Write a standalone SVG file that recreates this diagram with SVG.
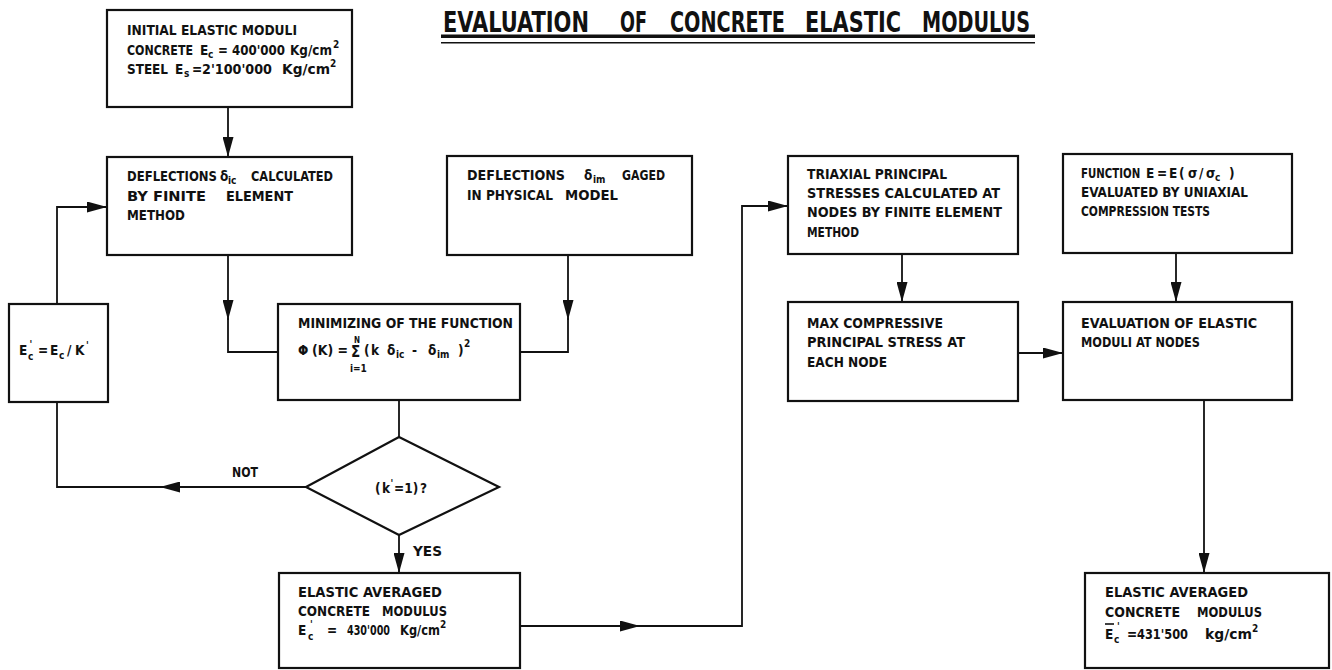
<svg xmlns="http://www.w3.org/2000/svg" width="1332" height="670" viewBox="0 0 1332 670">
<style>
.b{fill:#fff;stroke:#111;stroke-width:2.2}
.c{fill:none;stroke:#111;stroke-width:1.8}
.t{font-family:"DejaVu Sans Condensed","DejaVu Sans",sans-serif;font-weight:bold;font-size:13.5px;fill:#111}
.s{font-family:"DejaVu Sans Condensed","DejaVu Sans",sans-serif;font-weight:bold;font-size:10px;fill:#111}
.h{font-family:"DejaVu Sans Condensed","DejaVu Sans",sans-serif;font-weight:bold;font-size:28px;fill:#111}
.sm{font-size:10px}
</style>
<defs>
<marker id="ah" markerUnits="userSpaceOnUse" markerWidth="20" markerHeight="11" viewBox="0 0 20 11" refX="20" refY="5.5" orient="auto"><path d="M0,0 L20,5.5 L0,11 Z" fill="#111"/></marker>
</defs>
<rect width="1332" height="670" fill="#fff"/>
<g id="title">
<g transform="translate(443,0) scale(0.8,1)">
<text class="h" x="0" y="32" textLength="182.5" lengthAdjust="spacingAndGlyphs">EVALUATION</text>
<text class="h" x="221.25" y="32" textLength="33.75" lengthAdjust="spacingAndGlyphs">OF</text>
<text class="h" x="283.75" y="32" textLength="143.75" lengthAdjust="spacingAndGlyphs">CONCRETE</text>
<text class="h" x="452.5" y="32" textLength="120" lengthAdjust="spacingAndGlyphs">ELASTIC</text>
<text class="h" x="598.75" y="32" textLength="135" lengthAdjust="spacingAndGlyphs">MODULUS</text>
</g>
<rect x="441" y="34.5" width="594" height="3.5" fill="#111"/>
<rect x="441" y="42" width="594" height="1.5" fill="#111"/>
</g>
<g id="connectors">
<path class="c" d="M228,107 V157" marker-end="url(#ah)"/>
<path class="c" d="M228,255 V320" marker-end="url(#ah)"/>
<path class="c" d="M228,318 V352 H278"/>
<path class="c" d="M568,255 V320" marker-end="url(#ah)"/>
<path class="c" d="M568,318 V352 H520"/>
<path class="c" d="M399,400 V437"/>
<path class="c" d="M306,487 H160" marker-end="url(#ah)"/>
<path class="c" d="M162,487 H57 V402"/>
<path class="c" d="M57,304 V207 H107" marker-end="url(#ah)"/>
<path class="c" d="M399,535 V573" marker-end="url(#ah)"/>
<path class="c" d="M520,626 H640" marker-end="url(#ah)"/>
<path class="c" d="M638,626 H742 V206 H788" marker-end="url(#ah)"/>
<path class="c" d="M902,254 V302" marker-end="url(#ah)"/>
<path class="c" d="M1176,253 V302" marker-end="url(#ah)"/>
<path class="c" d="M1018,353 H1063" marker-end="url(#ah)"/>
<path class="c" d="M1204,400 V573" marker-end="url(#ah)"/>
</g>
<g id="n1">
<rect class="b" x="107" y="10" width="245" height="97"/>
<text class="t" x="127" y="35" textLength="170" lengthAdjust="spacingAndGlyphs">INITIAL ELASTIC MODULI</text>
<text class="t" x="127" y="55" textLength="66" lengthAdjust="spacingAndGlyphs">CONCRETE</text>
<text class="t" x="200" y="55">E</text><text class="s" x="208" y="58">c</text>
<text class="t" x="218" y="55" textLength="67" lengthAdjust="spacingAndGlyphs">= 400'000</text>
<text class="t" x="290" y="55" textLength="42" lengthAdjust="spacingAndGlyphs">Kg/cm</text>
<text class="s" x="333" y="48">2</text>
<text class="t" x="127" y="74" textLength="41" lengthAdjust="spacingAndGlyphs">STEEL</text>
<text class="t" x="175" y="74">E</text><text class="s" x="184" y="77">s</text>
<text class="t" x="192" y="74">=</text>
<text class="t" x="202" y="74" textLength="70" lengthAdjust="spacingAndGlyphs">2'100'000</text>
<text class="t" x="282" y="74" textLength="48" lengthAdjust="spacingAndGlyphs">Kg/cm</text>
<text class="s" x="330" y="67">2</text>
</g>
<g id="n2">
<rect class="b" x="107" y="157" width="245" height="98"/>
<text class="t" x="127" y="181" textLength="90" lengthAdjust="spacingAndGlyphs">DEFLECTIONS</text>
<text class="t" x="220" y="181">δ</text><text class="s" x="228" y="184">ic</text>
<text class="t" x="251" y="181" textLength="82" lengthAdjust="spacingAndGlyphs">CALCULATED</text>
<text class="t" x="127" y="201" textLength="79" lengthAdjust="spacingAndGlyphs">BY FINITE</text>
<text class="t" x="226" y="201" textLength="67" lengthAdjust="spacingAndGlyphs">ELEMENT</text>
<text class="t" x="127" y="220" textLength="58" lengthAdjust="spacingAndGlyphs">METHOD</text>
</g>
<g id="n3">
<rect class="b" x="447" y="156" width="245" height="99"/>
<text class="t" x="467" y="180" textLength="98" lengthAdjust="spacingAndGlyphs">DEFLECTIONS</text>
<text class="t" x="584" y="180">δ</text><text class="s" x="593" y="183">im</text>
<text class="t" x="622" y="180" textLength="43" lengthAdjust="spacingAndGlyphs">GAGED</text>
<text class="t" x="467" y="200" textLength="86" lengthAdjust="spacingAndGlyphs">IN PHYSICAL</text>
<text class="t" x="565" y="200" textLength="53" lengthAdjust="spacingAndGlyphs">MODEL</text>
</g>
<g id="n4">
<rect class="b" x="9" y="304" width="99" height="98"/>
<text class="t"><tspan x="19" y="355">E</tspan><tspan class="sm" x="28" y="360">c</tspan><tspan class="sm" x="29.5" y="348">'</tspan><tspan x="38" y="355">=</tspan><tspan x="50" y="355">E</tspan><tspan class="sm" x="59" y="359">c</tspan><tspan x="67" y="355">/</tspan><tspan x="75" y="355">K</tspan><tspan class="sm" x="86" y="349">'</tspan></text>
</g>
<g id="n5">
<rect class="b" x="278" y="304" width="242" height="96"/>
<text class="t" x="298" y="328" textLength="215" lengthAdjust="spacingAndGlyphs">MINIMIZING OF THE FUNCTION</text>
<text class="t" x="298" y="355">Φ</text>
<text class="t" x="312" y="355" textLength="36" lengthAdjust="spacingAndGlyphs">(K) =</text>
<text class="t" x="351" y="357" style="font-size:15px">Σ</text>
<text class="s" x="354" y="343" style="font-size:8px">N</text>
<text class="s" x="350" y="372">i=1</text>
<text class="t" x="364" y="355">(</text>
<text class="t" x="371" y="355">k</text>
<text class="t" x="387" y="355">δ</text><text class="s" x="396" y="358">ic</text>
<text class="t" x="412" y="355">-</text>
<text class="t" x="428" y="355">δ</text><text class="s" x="437" y="358">im</text>
<text class="t" x="458" y="355">)</text>
<text class="s" x="464" y="347">2</text>
</g>
<g id="n6">
<polygon class="b" points="399,437 499,487 399,535 306,487"/>
<text class="t"><tspan x="375" y="493">(</tspan><tspan x="382" y="493">k</tspan><tspan class="sm" x="390.5" y="487">'</tspan><tspan x="394" y="493">=1)</tspan><tspan x="420" y="493">?</tspan></text>
</g>
<g id="labels">
<text class="t" x="232" y="477" textLength="26" lengthAdjust="spacingAndGlyphs">NOT</text>
<text class="t" x="413" y="556" textLength="29" lengthAdjust="spacingAndGlyphs">YES</text>
</g>
<g id="n7">
<rect class="b" x="279" y="573" width="241" height="95"/>
<text class="t" x="298" y="597" textLength="144" lengthAdjust="spacingAndGlyphs">ELASTIC AVERAGED</text>
<text class="t" x="298" y="616" textLength="72" lengthAdjust="spacingAndGlyphs">CONCRETE</text>
<text class="t" x="382" y="616" textLength="65" lengthAdjust="spacingAndGlyphs">MODULUS</text>
<text class="t"><tspan x="298" y="635">E</tspan><tspan class="sm" x="308" y="640">c</tspan><tspan class="sm" x="310" y="628">'</tspan><tspan x="327" y="635">=</tspan></text>
<text class="t" x="347" y="635" textLength="43" lengthAdjust="spacingAndGlyphs">430'000</text>
<text class="t" x="400" y="635" textLength="40" lengthAdjust="spacingAndGlyphs">Kg/cm</text>
<text class="s" x="440" y="628">2</text>
</g>
<g id="n8">
<rect class="b" x="788" y="156" width="230" height="98"/>
<text class="t" x="807" y="179" textLength="140" lengthAdjust="spacingAndGlyphs">TRIAXIAL PRINCIPAL</text>
<text class="t" x="807" y="198" textLength="193" lengthAdjust="spacingAndGlyphs">STRESSES CALCULATED AT</text>
<text class="t" x="807" y="217" textLength="195" lengthAdjust="spacingAndGlyphs">NODES BY FINITE ELEMENT</text>
<text class="t" x="807" y="237" textLength="52" lengthAdjust="spacingAndGlyphs">METHOD</text>
</g>
<g id="n9">
<rect class="b" x="1063" y="154" width="229" height="99"/>
<text class="t" transform="translate(1081,178) scale(0.84,1)" x="0" y="0">FUNCTION</text>
<text class="t"><tspan x="1146" y="178">E</tspan><tspan x="1157" y="178">=</tspan><tspan x="1169" y="178">E</tspan><tspan x="1179" y="178">(</tspan><tspan x="1188" y="178">σ</tspan><tspan x="1199" y="178">/</tspan><tspan x="1206" y="178">σ</tspan><tspan class="sm" x="1215" y="181">c</tspan><tspan x="1229" y="178">)</tspan></text>
<text class="t" x="1081" y="197" textLength="167" lengthAdjust="spacingAndGlyphs">EVALUATED BY UNIAXIAL</text>
<text class="t" x="1081" y="216" textLength="129" lengthAdjust="spacingAndGlyphs">COMPRESSION TESTS</text>
</g>
<g id="n10">
<rect class="b" x="788" y="302" width="230" height="99"/>
<text class="t" x="807" y="328" textLength="136" lengthAdjust="spacingAndGlyphs">MAX COMPRESSIVE</text>
<text class="t" x="807" y="347" textLength="158" lengthAdjust="spacingAndGlyphs">PRINCIPAL STRESS AT</text>
<text class="t" x="807" y="367" textLength="80" lengthAdjust="spacingAndGlyphs">EACH NODE</text>
</g>
<g id="n11">
<rect class="b" x="1063" y="302" width="229" height="98"/>
<text class="t" x="1081" y="328" textLength="176" lengthAdjust="spacingAndGlyphs">EVALUATION OF ELASTIC</text>
<text class="t" x="1081" y="347" textLength="119" lengthAdjust="spacingAndGlyphs">MODULI AT NODES</text>
</g>
<g id="n12">
<rect class="b" x="1085" y="573" width="244" height="95"/>
<text class="t" x="1105" y="597" textLength="143" lengthAdjust="spacingAndGlyphs">ELASTIC AVERAGED</text>
<text class="t" x="1105" y="617" textLength="75" lengthAdjust="spacingAndGlyphs">CONCRETE</text>
<text class="t" x="1197" y="617" textLength="65" lengthAdjust="spacingAndGlyphs">MODULUS</text>
<line x1="1105" y1="624" x2="1114" y2="624" stroke="#111" stroke-width="1.6"/>
<text class="t"><tspan x="1105" y="639">E</tspan><tspan class="sm" x="1117" y="630">'</tspan><tspan class="sm" x="1114" y="643">c</tspan><tspan x="1127" y="639">=</tspan></text>
<text class="t" x="1137" y="639" textLength="51" lengthAdjust="spacingAndGlyphs">431'500</text>
<text class="t" x="1205" y="639" textLength="47" lengthAdjust="spacingAndGlyphs">kg/cm</text>
<text class="s" x="1252" y="632">2</text>
</g>
</svg>
